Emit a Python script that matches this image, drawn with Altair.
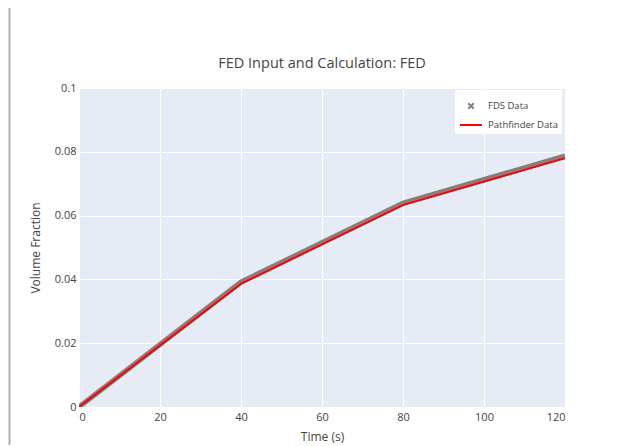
import altair as alt
import pandas as pd

# ---- data ----
time_s = [0, 40, 80, 120]
fds_data = [0.0, 0.0392, 0.0639, 0.0787]
pathfinder_data = [0.0, 0.0386, 0.0633, 0.0780]
series_names = ["FDS Data", "Pathfinder Data"]
series_colors = ["#808080", "#ff0000"]
x_ticks = [0, 20, 40, 60, 80, 100, 120]
y_ticks = [0, 0.02, 0.04, 0.06, 0.08, 0.1]

df = pd.DataFrame({
    "t": time_s + time_s,
    "v": fds_data + pathfinder_data,
    "series": [series_names[0]] * len(time_s) + [series_names[1]] * len(time_s),
})

FONT = "Open Sans"
TXT = "#444444"
W, H = 486, 319

x_path = "M-0.25,-0.25L0.25,0.25M0.25,-0.25L-0.25,0.25"

legend = alt.Legend(
    title=None, orient="none", legendX=376, legendY=2,
    fillColor="white", padding=4, rowPadding=0,
    labelFont=FONT, labelFontSize=9.5, labelColor=TXT, labelOffset=5,
    symbolSize=484, symbolStrokeWidth=2, symbolOpacity=1,
)

color_scale = alt.Scale(domain=series_names, range=series_colors)
shape_scale = alt.Scale(domain=series_names, range=[x_path, "stroke"])

x_enc = alt.X(
    "t:Q",
    scale=alt.Scale(domain=[0, 120], nice=False, zero=False),
    axis=alt.Axis(values=x_ticks, title="Time (s)", titleX=W / 2, titleY=29,
                  titleBaseline="middle", labelPadding=4),
)
y_enc = alt.Y(
    "v:Q",
    scale=alt.Scale(domain=[0, 0.1], nice=False),
    axis=alt.Axis(values=y_ticks, format="~g", title="Volume Fraction",
                  titleX=-44, titleY=H / 2, titleBaseline="middle", labelPadding=3),
)

base = alt.Chart(df)

fds_line = base.transform_filter(alt.datum.series == series_names[0]).mark_line(
    strokeWidth=5, clip=True
).encode(x=x_enc, y=y_enc, color=alt.Color("series:N", scale=color_scale, legend=legend))

pf_line = base.transform_filter(alt.datum.series == series_names[1]).mark_line(
    strokeWidth=2, clip=True
).encode(x=x_enc, y=y_enc, color=alt.Color("series:N", scale=color_scale, legend=legend))

legend_pts = base.transform_filter(alt.datum.t < 0).mark_point(filled=False).encode(
    x=x_enc, y=y_enc,
    color=alt.Color("series:N", scale=color_scale, legend=legend),
    shape=alt.Shape("series:N", scale=shape_scale, legend=legend),
)

border = alt.Chart(pd.DataFrame({"k": [0]})).mark_rule(
    color="#b0b0b0", strokeWidth=2
).encode(x=alt.value(-69.5), y=alt.value(-80), y2=alt.value(360))

chart = alt.layer(fds_line, pf_line, legend_pts, border).properties(
    width=W, height=H,
    title=alt.TitleParams("FED Input and Calculation: FED", font=FONT, fontSize=14.5,
                          fontWeight="normal", color=TXT, anchor="middle",
                          offset=0, dy=64),
    autosize=alt.AutoSizeParams(type="none"),
    padding={"left": 71, "top": 80, "right": 40, "bottom": 38},
).configure_view(
    fill="#E5ECF6", stroke=None
).configure_axis(
    labelFont=FONT, labelFontSize=11, labelColor=TXT,
    titleFont=FONT, titleFontSize=12, titleColor=TXT, titleFontWeight="normal",
    ticks=False, domain=False, gridColor="white", gridWidth=1,
)

chart.save("out.html", embed_options={"renderer": "svg", "actions": False})
